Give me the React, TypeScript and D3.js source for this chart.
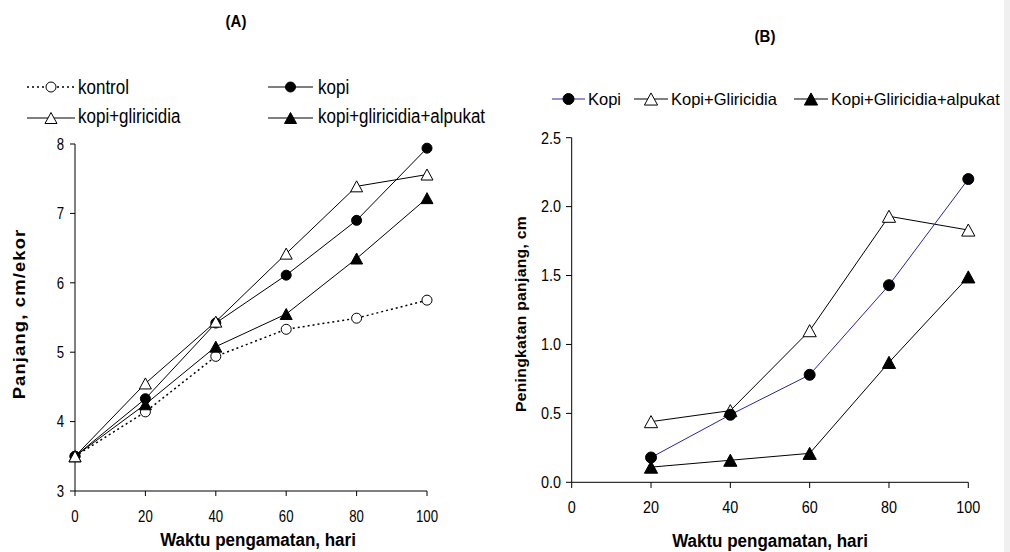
import React from "react";
import * as d3 from "d3";

// Panel A: body length (cm/ekor) over observation days
const daysA = [0, 20, 40, 60, 80, 100];
const kontrolA = [3.5, 4.14, 4.94, 5.33, 5.49, 5.75];
const kopiA = [3.5, 4.33, 5.42, 6.11, 6.9, 7.94];
const kopiGliA = [3.5, 4.55, 5.44, 6.42, 7.39, 7.56];
const kopiGliAlpA = [3.5, 4.25, 5.08, 5.55, 6.35, 7.22];
const xTicksA = [0, 20, 40, 60, 80, 100];
const yTicksA = [3, 4, 5, 6, 7, 8];

// Panel B: length increase (cm)
const daysB = [20, 40, 60, 80, 100];
const kopiB = [0.18, 0.49, 0.78, 1.43, 2.2];
const kopiGliB = [0.44, 0.52, 1.1, 1.93, 1.83];
const kopiGliAlpB = [0.11, 0.16, 0.21, 0.87, 1.49];
const xTicksB = [0, 20, 40, 60, 80, 100];
const yTicksB = [0, 0.5, 1, 1.5, 2, 2.5];

const FONT = "'Liberation Sans', Arial, sans-serif";
const BLUE = "#2626a0";

const xA = d3.scaleLinear().domain([0, 100]).range([75, 427]);
const yA = d3.scaleLinear().domain([3, 8]).range([491, 144]);
const xB = d3.scaleLinear().domain([0, 100]).range([571.7, 968.3]);
const yB = d3.scaleLinear().domain([0, 2.5]).range([482.3, 137.7]);

type MarkerKind = "circleOpen" | "circle" | "triOpen" | "tri";

function Marker({ kind, x, y, r = 5 }: { kind: MarkerKind; x: number; y: number; r?: number }) {
  if (kind === "circle" || kind === "circleOpen") {
    return (
      <circle
        cx={x}
        cy={y}
        r={r}
        fill={kind === "circle" ? "#000" : "#fff"}
        stroke="#000"
        strokeWidth={1}
      />
    );
  }
  const w = r * 2.4;
  const h = r * 2.2;
  const p = `M${x},${y - h / 2}L${x + w / 2},${y + h / 2}L${x - w / 2},${y + h / 2}Z`;
  return <path d={p} fill={kind === "tri" ? "#000" : "#fff"} stroke="#000" strokeWidth={1} />;
}

function Txt({
  x,
  y,
  size,
  sy = 1,
  sx = 1,
  anchor = "start",
  bold = false,
  rotate = 0,
  spacing = 0,
  children,
}: {
  x: number;
  y: number;
  size: number;
  sy?: number;
  sx?: number;
  anchor?: string;
  bold?: boolean;
  rotate?: number;
  spacing?: number;
  children: React.ReactNode;
}) {
  return (
    <text
      transform={`translate(${x},${y}) rotate(${rotate}) scale(${sx},${sy})`}
      fontFamily={FONT}
      fontSize={size}
      fontWeight={bold ? "bold" : "normal"}
      textAnchor={anchor as any}
      letterSpacing={spacing}
      fill="#000"
    >
      {children}
    </text>
  );
}

function Series({
  xs,
  ys,
  xScale,
  yScale,
  kind,
  color = "#000",
  dash,
  r,
  width = 1,
}: {
  xs: number[];
  ys: number[];
  xScale: d3.ScaleLinear<number, number>;
  yScale: d3.ScaleLinear<number, number>;
  kind: MarkerKind;
  color?: string;
  dash?: string;
  r?: number;
  width?: number;
}) {
  const pts = xs.map((d, i) => [d, ys[i]] as [number, number]);
  const line = d3
    .line<[number, number]>()
    .x((d) => xScale(d[0]))
    .y((d) => yScale(d[1]));
  return (
    <g>
      <path d={line(pts) || ""} fill="none" stroke={color} strokeWidth={width} strokeDasharray={dash} />
      {pts.map((d, i) => (
        <Marker key={i} kind={kind} x={xScale(d[0])} y={yScale(d[1])} r={r} />
      ))}
    </g>
  );
}

function LegendItem({
  x1,
  x2,
  y,
  kind,
  label,
  tx,
  ty,
  size,
  sy = 1,
  color = "#000",
  dash,
  r,
}: {
  x1: number;
  x2: number;
  y: number;
  kind: MarkerKind;
  label: string;
  tx: number;
  ty: number;
  size: number;
  sy?: number;
  color?: string;
  dash?: string;
  r?: number;
}) {
  return (
    <g>
      <line x1={x1} x2={x2} y1={y} y2={y} stroke={color} strokeWidth={dash ? 1.5 : 1} strokeDasharray={dash} />
      <Marker kind={kind} x={(x1 + x2) / 2} y={y} r={r} />
      <Txt x={tx} y={ty} size={size} sy={sy}>
        {label}
      </Txt>
    </g>
  );
}

export default function App() {
  const fmtB = d3.format(".1f");
  return (
    <svg
      width={1010}
      height={552}
      style={{ position: "absolute", left: 0, top: 0, background: "#fff" }}
    >
      <rect x={0} y={0} width={1010} height={552} fill="#fff" />

      {/* ---------- Panel A ---------- */}
      <Txt x={236} y={27} size={15} sy={1.1} anchor="middle" bold>
        (A)
      </Txt>

      <LegendItem x1={27} x2={75} y={87} kind="circleOpen" label="kontrol" tx={78} ty={94} size={17} sy={1.15} dash="2,3" />
      <LegendItem x1={268} x2={313} y={87} kind="circle" label="kopi" tx={318} ty={94} size={17} sy={1.15} />
      <LegendItem x1={27} x2={75} y={118} kind="triOpen" label="kopi+gliricidia" tx={78} ty={123} size={17} sy={1.15} />
      <LegendItem x1={268} x2={313} y={118} kind="tri" label="kopi+gliricidia+alpukat" tx={318} ty={123} size={17} sy={1.15} />

      {/* axes */}
      <line x1={75} x2={75} y1={yA(8)} y2={yA(3)} stroke="#000" />
      <line x1={xA(0)} x2={xA(100)} y1={491} y2={491} stroke="#000" />
      {yTicksA.map((t) => (
        <g key={"ya" + t}>
          <line x1={70} x2={75} y1={yA(t)} y2={yA(t)} stroke="#000" />
          <Txt x={64} y={yA(t) + 5.8} size={13.2} sy={1.23} anchor="end">
            {String(t)}
          </Txt>
        </g>
      ))}
      {xTicksA.map((t) => (
        <g key={"xa" + t}>
          <line x1={xA(t)} x2={xA(t)} y1={491} y2={496} stroke="#000" />
          <Txt x={xA(t)} y={521.8} size={13.2} sy={1.23} anchor="middle">
            {String(t)}
          </Txt>
        </g>
      ))}

      <Series xs={daysA} ys={kontrolA} xScale={xA} yScale={yA} kind="circleOpen" dash="2,3" width={1.5} />
      <Series xs={daysA} ys={kopiGliAlpA} xScale={xA} yScale={yA} kind="tri" />
      <Series xs={daysA} ys={kopiA} xScale={xA} yScale={yA} kind="circle" />
      <Series xs={daysA} ys={kopiGliA} xScale={xA} yScale={yA} kind="triOpen" />

      <Txt x={258} y={546} size={17} sy={1.13} anchor="middle" bold>
        Waktu pengamatan, hari
      </Txt>
      <Txt x={25} y={314} size={16} sx={1.15} rotate={-90} anchor="middle" bold spacing={1}>
        Panjang, cm/ekor
      </Txt>

      {/* ---------- Panel B ---------- */}
      <Txt x={765} y={42} size={15} sy={1.1} anchor="middle" bold>
        (B)
      </Txt>

      <LegendItem x1={552} x2={585} y={99} kind="circle" label="Kopi" tx={588} ty={105} size={16.5} color={BLUE} r={5.5} />
      <LegendItem x1={634} x2={668} y={99} kind="triOpen" label="Kopi+Gliricidia" tx={671} ty={105} size={16.5} r={5.5} />
      <LegendItem x1={794} x2={828} y={99} kind="tri" label="Kopi+Gliricidia+alpukat" tx={831} ty={105} size={16.5} r={5.5} />

      <line x1={571.7} x2={571.7} y1={yB(2.5)} y2={yB(0)} stroke="#000" />
      <line x1={xB(0)} x2={xB(100)} y1={482.3} y2={482.3} stroke="#000" />
      {yTicksB.map((t) => (
        <g key={"yb" + t}>
          <line x1={566} x2={571.7} y1={yB(t)} y2={yB(t)} stroke="#000" />
          <Txt x={561} y={yB(t) + 5.8} size={14.4} sy={1.13} anchor="end">
            {fmtB(t)}
          </Txt>
        </g>
      ))}
      {xTicksB.map((t) => (
        <g key={"xb" + t}>
          <line x1={xB(t)} x2={xB(t)} y1={482.3} y2={488} stroke="#000" />
          <Txt x={xB(t)} y={513.3} size={14.4} sy={1.13} anchor="middle">
            {String(t)}
          </Txt>
        </g>
      ))}

      <Series xs={daysB} ys={kopiGliAlpB} xScale={xB} yScale={yB} kind="tri" r={5.5} />
      <Series xs={daysB} ys={kopiGliB} xScale={xB} yScale={yB} kind="triOpen" r={5.5} />
      <Series xs={daysB} ys={kopiB} xScale={xB} yScale={yB} kind="circle" color={BLUE} r={5.5} />

      <Txt x={770} y={547} size={17} sy={1.13} anchor="middle" bold>
        Waktu pengamatan, hari
      </Txt>
      <Txt x={526} y={314} size={14.5} sx={1.08} rotate={-90} anchor="middle" bold spacing={0.3}>
        Peningkatan panjang, cm
      </Txt>

      {/* page edge strip */}
      <rect x={1004} y={0} width={6} height={552} fill="#f0f0f0" />
    </svg>
  );
}
